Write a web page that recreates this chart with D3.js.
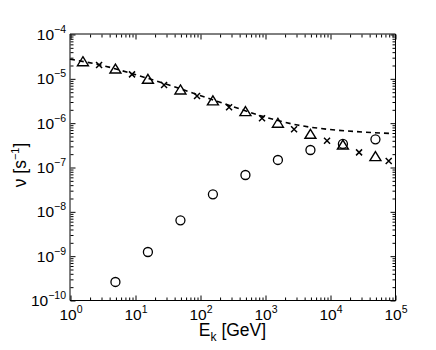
<!DOCTYPE html>
<html>
<head>
<meta charset="utf-8">
<script src="https://cdn.jsdelivr.net/npm/d3@7"></script>
<style>
body { margin:0; background:#fff; }
text { font-family: "Liberation Sans", Arial, sans-serif; fill:#000; }
</style>
</head>
<body>
<svg id="chart" width="436" height="350"></svg>
<script>
// values
var triE  = [1.58, 5.0, 15.8, 50, 158, 500, 1580, 5000, 15800, 50000];
var triNu = [2.37e-5, 1.62e-5, 9.5e-6, 5.46e-6, 3.1e-6, 1.77e-6, 9.7e-7, 5.46e-7, 3.13e-7, 1.71e-7];

var crossE  = [2.8, 9.0, 28, 90, 280, 900, 2800, 9000, 28000, 80000];
var crossNu = [2.0e-5, 1.23e-5, 7.1e-6, 4.0e-6, 2.22e-6, 1.26e-6, 7.1e-7, 3.92e-7, 2.14e-7, 1.36e-7];

var circE  = [5.0, 15.8, 50, 158, 500, 1580, 5000, 15800, 50000];
var circNu = [2.55e-10, 1.21e-9, 6.27e-9, 2.42e-8, 6.6e-8, 1.44e-7, 2.42e-7, 3.31e-7, 4.2e-7];

var lineE  = [1, 3.16, 10, 31.6, 100, 316, 1000, 3160, 10000, 31600, 87000];
var lineNu = [2.7e-5, 1.95e-5, 1.22e-5, 7.26e-6, 4.1e-6, 2.32e-6, 1.34e-6, 8.85e-7, 7.0e-7, 6.17e-7, 5.69e-7];

var xTicks = [1, 10, 100, 1000, 10000, 100000];
var xExp   = ["0", "1", "2", "3", "4", "5"];
var yTicks = [1e-10, 1e-9, 1e-8, 1e-7, 1e-6, 1e-5, 1e-4];
var yExp   = ["\u221210", "\u22129", "\u22128", "\u22127", "\u22126", "\u22125", "\u22124"];

var svg = d3.select("#chart");
var pLeft = 70, pRight = 395, pTop = 34, pBottom = 300;

var x = d3.scaleLog().domain([1, 1e5]).range([pLeft, pRight]);
var y = d3.scaleLog().domain([1e-10, 1e-4]).range([pBottom, pTop]);

function minors(lo, hi){
    var out = [];
    for(var p = lo; p < hi; p++){
        for(var m = 2; m <= 9; m++) out.push(m * Math.pow(10, p));
    }
    return out;
}
var xMinor = minors(0, 5);
var yMinor = minors(-10, -4);

// frame (top/left come out softer in the original)
var frame = [
    [pLeft, pTop, pRight + 0.5, pTop],
    [pLeft, pTop, pLeft, pBottom + 0.5],
    [pLeft, pBottom + 0.5, pRight + 1, pBottom + 0.5],
    [pRight + 0.5, pTop, pRight + 0.5, pBottom + 1]
];
svg.selectAll(".frame")
    .data(frame)
    .enter().append("line")
    .attr("class", "frame")
    .attr("x1", function(d){ return d[0]; }).attr("y1", function(d){ return d[1]; })
    .attr("x2", function(d){ return d[2]; }).attr("y2", function(d){ return d[3]; })
    .attr("stroke", "#000").attr("stroke-width", 1);

function tickAxis(axis, pos, vals, size){
    var g = svg.append("g")
        .attr("transform", pos)
        .call(axis.tickValues(vals).tickSizeInner(size).tickSizeOuter(0).tickFormat(""));
    g.select(".domain").remove();
    g.selectAll(".tick line").attr("stroke", "#000").attr("stroke-width", 1);
    return g;
}
// bottom / top
tickAxis(d3.axisBottom(x), "translate(0.5," + (pBottom + 0.5) + ")", xTicks, -5);
tickAxis(d3.axisBottom(x), "translate(0.5," + (pBottom + 0.5) + ")", xMinor, -3);
tickAxis(d3.axisTop(x), "translate(0.5," + (pTop + 0.5) + ")", xTicks, -5);
tickAxis(d3.axisTop(x), "translate(0.5," + (pTop + 0.5) + ")", xMinor, -3);
// left / right
tickAxis(d3.axisLeft(y), "translate(" + (pLeft + 0.5) + ",0.5)", yTicks, -5);
tickAxis(d3.axisLeft(y), "translate(" + (pLeft + 0.5) + ",0.5)", yMinor, -3);
tickAxis(d3.axisRight(y), "translate(" + (pRight + 0.5) + ",0.5)", yTicks, -5);
tickAxis(d3.axisRight(y), "translate(" + (pRight + 0.5) + ",0.5)", yMinor, -3);

// tick labels
xTicks.forEach(function(v, i){
    var t = svg.append("text")
        .attr("x", x(v) + 1).attr("y", pBottom + 20)
        .attr("text-anchor", "middle")
        .style("font-size", "15.5px");
    t.append("tspan").text("10");
    t.append("tspan").attr("dy", -7).style("font-size", "10.5px").text(xExp[i]);
});
yTicks.forEach(function(v, i){
    var t = svg.append("text")
        .attr("x", pLeft - 4).attr("y", y(v) + 6)
        .attr("text-anchor", "end")
        .style("font-size", "15.5px");
    t.append("tspan").text("10");
    t.append("tspan").attr("dy", -7).style("font-size", "10.5px").text(yExp[i]);
});

// axis titles
var xl = svg.append("text")
    .attr("x", (pLeft + pRight) / 2).attr("y", 336)
    .attr("text-anchor", "middle")
    .style("font-size", "17.5px");
xl.append("tspan").text("E");
xl.append("tspan").attr("dy", 5).style("font-size", "12px").text("k");
xl.append("tspan").attr("dy", -5).text(" [GeV]");

var yl = svg.append("text")
    .attr("transform", "translate(26," + ((pTop + pBottom) / 2 - 2) + ") rotate(-90)")
    .attr("text-anchor", "middle")
    .style("font-size", "17.5px");
yl.append("tspan").text("\u03bd [s");
yl.append("tspan").attr("dy", -7).style("font-size", "11px").text("\u22121");
yl.append("tspan").attr("dy", 7).text("]");

// dashed curve
var lineData = lineE.map(function(e, i){ return [e, lineNu[i]]; });
svg.append("path")
    .datum(lineData)
    .attr("fill", "none")
    .attr("stroke", "#000")
    .attr("stroke-width", 1.6)
    .attr("stroke-dasharray", "5,4")
    .attr("d", d3.line().x(function(d){ return x(d[0]); }).y(function(d){ return y(d[1]); }).curve(d3.curveMonotoneX));

// triangles
svg.selectAll(".tri")
    .data(triE.map(function(e, i){ return [e, triNu[i]]; }))
    .enter().append("path")
    .attr("class", "tri")
    .attr("transform", function(d){ return "translate(" + x(d[0]) + "," + y(d[1]) + ")"; })
    .attr("d", "M0,-5L5.5,4L-5.5,4Z")
    .attr("fill", "none").attr("stroke", "#000").attr("stroke-width", 1.4);

// crosses
svg.selectAll(".cross")
    .data(crossE.map(function(e, i){ return [e, crossNu[i]]; }))
    .enter().append("path")
    .attr("class", "cross")
    .attr("transform", function(d){ return "translate(" + x(d[0]) + "," + y(d[1]) + ")"; })
    .attr("d", "M-3,-3L3,3M-3,3L3,-3")
    .attr("fill", "none").attr("stroke", "#000").attr("stroke-width", 1.5);

// circles
svg.selectAll(".circ")
    .data(circE.map(function(e, i){ return [e, circNu[i]]; }))
    .enter().append("circle")
    .attr("class", "circ")
    .attr("cx", function(d){ return x(d[0]); })
    .attr("cy", function(d){ return y(d[1]); })
    .attr("r", 4.5)
    .attr("fill", "none").attr("stroke", "#000").attr("stroke-width", 1.3);
</script>
</body>
</html>
